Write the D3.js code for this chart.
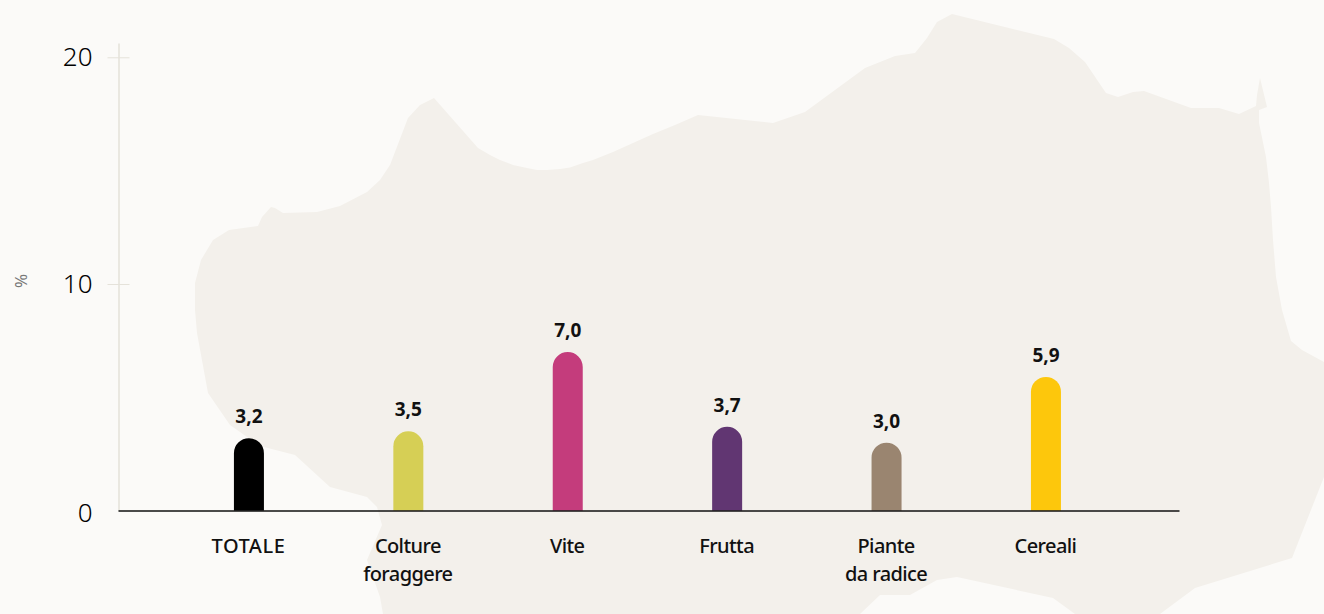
<!DOCTYPE html>
<html>
<head>
<meta charset="utf-8">
<script src="https://cdn.jsdelivr.net/npm/d3@7"></script>
<style>
  html, body { margin: 0; padding: 0; background: #fbfaf8; overflow: hidden; }
  svg text { font-family: "Noto Sans", sans-serif; }
  svg { display: block; }
  .y-axis text { font-size: 26px; font-weight: 300; fill: #000; }
  .x-axis text { font-size: 20px; font-weight: 500; fill: #111; letter-spacing: -0.6px; }
  .value { font-size: 19px; font-weight: 700; fill: #111; text-anchor: middle; }
</style>
</head>
<body>
<div id="chart"></div>
<script>
var categories = ["TOTALE", "Colture\nforaggere", "Vite", "Frutta", "Piante\nda radice", "Cereali"];
var values = [3.2, 3.5, 7.0, 3.7, 3.0, 5.9];
var valueLabels = ["3,2", "3,5", "7,0", "3,7", "3,0", "5,9"];
var barColors = ["#000000", "#d6cf55", "#c43c7c", "#613672", "#9a8570", "#fdc70c"];
var yTicks = [0, 10, 20];

// background map outline
var mapOutline = [
  [383,614],[380,597],[367,560],[382,525],[377,507],[367,497],[330,487],[295,455],[260,446],[230,425],
  [208,393],[197,333],[195,310],[195,283],[201,260],[213,240],[229,230],[258,226],[262,217],[271,207],
  [275,208],[283,213],[317,212],[340,206],[367,192],[380,180],[390,165],[408,118],[420,105],[434,98],
  [478,148],[490,155],[500,160],[513,165],[527,168],[537,170],[547,170],[560,169],[570,167.5],[583,163],
  [593,160],[613,152],[633,143],[653,134],[675,125],[698,115],[773,123],[805,112],
  [865,68],[895,56],[915,53],[927,38],[937,22],[952,14],[1054,39],[1069,48],[1085,62],[1106,93],
  [1118,97],[1133,92],[1144,91],[1191,108],[1219,108],[1239,114],[1256,106],[1257,95],[1260,78],[1267,107],
  [1259,110],[1259,123],[1266,157],[1269,183],[1271,207],[1273,240],[1276,277],[1282,310],[1291,341],[1302,350],[1324,362],
  [1324,477],[1292,558],[1195,588],[1160,614],[1075,614],[1053,598],[957,577],[937,580],[910,595],
  [880,595],[860,614]
];

var width = 1324, height = 614;
var baseY = 510.7, barWidth = 30;

var svg = d3.select("#chart").append("svg")
  .attr("width", width)
  .attr("height", height);

svg.append("path")
  .attr("d", d3.line().curve(d3.curveLinear)(mapOutline) + "Z")
  .attr("fill", "#f3f0eb");

var x = d3.scalePoint()
  .domain(categories)
  .range([118, 1179])
  .padding(0.828)
  .align(0.496);

var y = d3.scaleLinear()
  .domain([0, 20.63])
  .range([baseY, 43]);

// y axis
var yAxis = svg.append("g")
  .attr("class", "y-axis")
  .attr("transform", "translate(118.5,0)")
  .call(d3.axisLeft(y).tickValues(yTicks).tickSizeInner(11).tickSizeOuter(0).tickPadding(11));
yAxis.select(".domain").attr("stroke", "#e5e2da").attr("stroke-width", 1.5);
yAxis.selectAll(".tick line")
  .attr("x1", -11).attr("x2", 11)
  .attr("stroke", "#e5e2da")
  .attr("display", function(d) { return d === 0 ? "none" : null; });
yAxis.selectAll(".tick text")
  .attr("x", -26)
  .attr("dy", function(d) { return d === 0 ? "0.42em" : "0.31em"; });

svg.append("text")
  .attr("transform", "translate(21,281) rotate(-90)")
  .attr("text-anchor", "middle")
  .attr("dy", "0.34em")
  .attr("font-size", 17)
  .attr("fill", "#777")
  .text("%");

// bars with a round top
function barPath(d, i) {
  var cx = x(categories[i]), top = y(d), r = barWidth / 2;
  var p = d3.path();
  p.moveTo(cx - r, baseY);
  p.lineTo(cx - r, top + r);
  p.arc(cx, top + r, r, Math.PI, 0);
  p.lineTo(cx + r, baseY);
  p.closePath();
  return p.toString();
}

svg.selectAll(".bar")
  .data(values)
  .enter().append("path")
  .attr("class", "bar")
  .attr("d", barPath)
  .attr("fill", function(d, i) { return barColors[i]; });

svg.selectAll(".value")
  .data(values)
  .enter().append("text")
  .attr("class", "value")
  .attr("x", function(d, i) { return x(categories[i]); })
  .attr("y", function(d) { return y(d) - 15; })
  .text(function(d, i) { return valueLabels[i]; });

// x axis
var xAxis = svg.append("g")
  .attr("class", "x-axis")
  .attr("transform", "translate(0,510.5)")
  .call(d3.axisBottom(x).tickSize(0).tickPadding(0));
xAxis.select(".domain").attr("stroke", "#111").attr("stroke-width", 1.5);
xAxis.selectAll(".tick text")
  .attr("y", 0)
  .attr("dy", null)
  .style("letter-spacing", function(d) { return d === "TOTALE" ? "0.5px" : null; })
  .each(function(d) {
    var t = d3.select(this).text("");
    d.split("\n").forEach(function(line, i) {
      t.append("tspan").attr("x", -1).attr("y", 42 + i * 28).text(line);
    });
  });
</script>
</body>
</html>
